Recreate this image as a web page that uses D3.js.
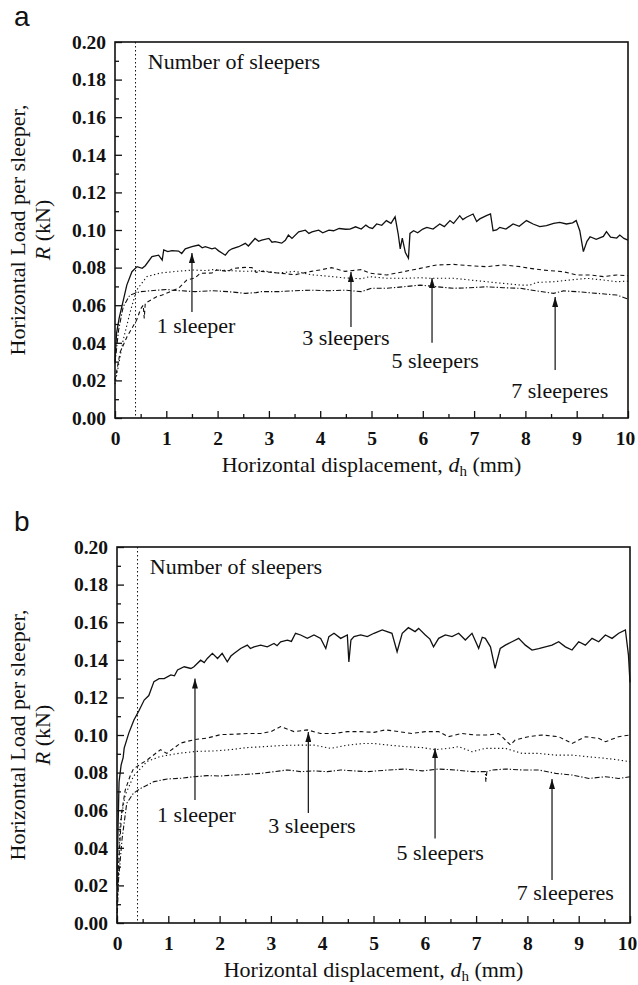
<!DOCTYPE html>
<html>
<head>
<meta charset="utf-8">
<script src="https://cdn.jsdelivr.net/npm/d3@7"></script>
<style>
  body { margin: 0; background: #fff; }
</style>
</head>
<body>
<div id="chart"></div>
<script>
// Axis ticks
const xTicks = [0, 1, 2, 3, 4, 5, 6, 7, 8, 9, 10];
const yTicks = [0, 0.02, 0.04, 0.06, 0.08, 0.10, 0.12, 0.14, 0.16, 0.18, 0.20];
const seriesNames = ["1 sleeper", "3 sleepers", "5 sleepers", "7 sleeperes"];
const markerLine = 0.4; // dotted vertical line, mm

// Panel a : [displacement mm, load kN]
const aOne = [[0,0.030],[0.03,0.045],[0.08,0.053],[0.14,0.060],[0.23,0.0707],[0.33,0.0778],[0.43,0.0805],[0.53,0.0796],[0.59,0.081],[0.72,0.0858],[0.85,0.0866],[0.92,0.084],[0.95,0.0894],[1.03,0.0885],[1.11,0.089],[1.24,0.0888],[1.3,0.0875],[1.37,0.090],[1.5,0.0911],[1.63,0.092],[1.7,0.0905],[1.76,0.0911],[1.89,0.090],[1.95,0.0905],[2.02,0.0889],[2.1,0.0875],[2.15,0.0866],[2.22,0.089],[2.28,0.090],[2.41,0.0911],[2.54,0.0929],[2.6,0.0915],[2.73,0.0955],[2.8,0.094],[2.86,0.0946],[3.0,0.0955],[3.06,0.0935],[3.12,0.0938],[3.25,0.093],[3.32,0.0945],[3.38,0.0973],[3.45,0.0955],[3.58,0.099],[3.71,0.0999],[3.78,0.0982],[3.84,0.099],[3.97,0.0999],[4.05,0.0985],[4.17,0.0999],[4.26,0.0996],[4.37,0.1008],[4.5,0.1004],[4.58,0.1005],[4.69,0.1017],[4.8,0.1005],[4.89,0.1026],[4.96,0.1012],[5.02,0.1008],[5.1,0.1032],[5.2,0.1025],[5.29,0.105],[5.38,0.1035],[5.46,0.107],[5.52,0.098],[5.56,0.090],[5.6,0.0957],[5.66,0.088],[5.72,0.085],[5.75,0.0982],[5.82,0.0996],[5.9,0.0985],[6.0,0.1005],[6.08,0.1014],[6.2,0.1005],[6.33,0.1032],[6.42,0.1018],[6.53,0.105],[6.6,0.1035],[6.72,0.1076],[6.78,0.1055],[6.85,0.1068],[6.98,0.1085],[7.05,0.1045],[7.11,0.1059],[7.24,0.1076],[7.32,0.1085],[7.37,0.0996],[7.44,0.1],[7.5,0.1014],[7.62,0.1005],[7.76,0.1032],[7.88,0.102],[8.02,0.105],[8.15,0.1032],[8.28,0.1018],[8.41,0.1023],[8.55,0.1035],[8.67,0.1041],[8.8,0.1032],[8.92,0.1038],[8.99,0.105],[9.06,0.0996],[9.13,0.0885],[9.2,0.094],[9.26,0.0964],[9.38,0.095],[9.52,0.0966],[9.58,0.0991],[9.66,0.0962],[9.78,0.0957],[9.84,0.0973],[9.92,0.0955],[10.0,0.0946]];
const aThree = [[0,0.020],[0.1,0.035],[0.23,0.043],[0.42,0.052],[0.5,0.058],[0.55,0.060],[0.57,0.053],[0.59,0.061],[0.81,0.0645],[0.92,0.0654],[1.14,0.068],[1.24,0.069],[1.40,0.0734],[1.56,0.0745],[1.66,0.077],[1.89,0.0771],[1.98,0.0787],[2.21,0.078],[2.3,0.0796],[2.54,0.0801],[2.67,0.080],[2.75,0.0775],[2.86,0.078],[3.18,0.0771],[3.51,0.0762],[3.83,0.078],[4.03,0.0789],[4.22,0.080],[4.48,0.078],[4.8,0.0789],[4.97,0.077],[5.3,0.0761],[5.62,0.0778],[5.95,0.0796],[6.27,0.0814],[6.6,0.0817],[6.92,0.081],[7.24,0.0805],[7.57,0.0814],[7.9,0.0805],[8.09,0.0796],[8.35,0.0787],[8.74,0.0778],[9.0,0.0761],[9.26,0.0761],[9.52,0.0752],[9.78,0.0761],[10.0,0.0757]];
const aFive = [[0,0.018],[0.16,0.0415],[0.29,0.0558],[0.42,0.068],[0.62,0.0752],[0.88,0.0771],[1.2,0.078],[1.53,0.0787],[1.79,0.0784],[1.89,0.0789],[2.21,0.0784],[2.54,0.078],[2.86,0.0784],[3.18,0.0771],[3.51,0.078],[3.83,0.0762],[4.16,0.0754],[4.48,0.0745],[4.8,0.0741],[4.97,0.0752],[5.3,0.0743],[5.62,0.0743],[5.95,0.0746],[6.14,0.0743],[6.6,0.0743],[6.92,0.0734],[7.24,0.0725],[7.57,0.0716],[7.9,0.0707],[8.09,0.0707],[8.22,0.0721],[8.55,0.0725],[8.87,0.0734],[9.2,0.0743],[9.52,0.0734],[9.78,0.0725],[10.0,0.0728]];
const aSeven = [[0,0.029],[0.07,0.0468],[0.16,0.0592],[0.29,0.0654],[0.49,0.0672],[1.01,0.0684],[1.11,0.068],[1.56,0.0672],[1.89,0.0677],[2.21,0.0672],[2.54,0.0663],[2.75,0.0667],[2.86,0.0672],[3.18,0.0672],[3.51,0.0677],[3.83,0.068],[4.16,0.0677],[4.48,0.068],[4.8,0.0672],[5.0,0.069],[5.3,0.069],[5.62,0.0698],[5.95,0.0707],[6.27,0.0698],[6.6,0.069],[6.92,0.0693],[7.24,0.0698],[7.57,0.0693],[7.9,0.069],[8.22,0.0676],[8.55,0.0663],[8.74,0.0676],[9.0,0.0672],[9.39,0.0663],[9.78,0.0654],[10.0,0.0633]];

// Panel b : [displacement mm, load kN]
const bOne = [[0,0.020],[0.02,0.050],[0.04,0.075],[0.08,0.084],[0.12,0.088],[0.14,0.093],[0.23,0.101],[0.33,0.108],[0.43,0.113],[0.53,0.1186],[0.62,0.121],[0.72,0.1284],[0.82,0.130],[0.92,0.130],[1.05,0.132],[1.12,0.1315],[1.18,0.1346],[1.31,0.1363],[1.44,0.1354],[1.5,0.1363],[1.63,0.1398],[1.7,0.1385],[1.76,0.1407],[1.86,0.1434],[1.96,0.1407],[2.05,0.1434],[2.15,0.1389],[2.22,0.142],[2.28,0.1434],[2.41,0.146],[2.54,0.1478],[2.6,0.146],[2.67,0.1469],[2.8,0.1478],[2.93,0.1469],[3.06,0.1487],[3.12,0.1475],[3.19,0.1496],[3.32,0.1505],[3.4,0.1498],[3.48,0.1541],[3.58,0.1532],[3.71,0.1514],[3.84,0.1532],[3.97,0.1514],[4.07,0.146],[4.13,0.1523],[4.23,0.1541],[4.36,0.1514],[4.49,0.1532],[4.52,0.1389],[4.56,0.1505],[4.62,0.1523],[4.75,0.1532],[4.88,0.1523],[5.01,0.1541],[5.17,0.1559],[5.36,0.1541],[5.46,0.1443],[5.56,0.1541],[5.68,0.1571],[5.81,0.155],[5.88,0.1567],[6.01,0.1532],[6.1,0.151],[6.17,0.1469],[6.27,0.1514],[6.4,0.1532],[6.53,0.1523],[6.66,0.1541],[6.79,0.1505],[6.92,0.1541],[7.05,0.1461],[7.12,0.152],[7.18,0.1514],[7.28,0.1469],[7.37,0.1354],[7.47,0.146],[7.57,0.1478],[7.7,0.1496],[7.83,0.1514],[7.96,0.1478],[8.09,0.1452],[8.22,0.146],[8.35,0.1469],[8.48,0.1478],[8.61,0.1496],[8.74,0.1469],[8.87,0.1452],[9.0,0.1496],[9.13,0.1478],[9.26,0.1514],[9.39,0.1496],[9.52,0.1532],[9.65,0.1514],[9.78,0.1541],[9.91,0.1559],[9.97,0.1425],[10.0,0.128]];
const bThree = [[0,0.010],[0.05,0.040],[0.09,0.0585],[0.16,0.0707],[0.25,0.0778],[0.32,0.082],[0.6,0.087],[0.85,0.0922],[0.97,0.0902],[1.24,0.0957],[1.5,0.0975],[1.76,0.0984],[2.02,0.1002],[2.28,0.1004],[2.54,0.1008],[2.8,0.1008],[3.0,0.1018],[3.19,0.1045],[3.45,0.1018],[3.71,0.1027],[3.97,0.1008],[4.23,0.1008],[4.49,0.1018],[4.75,0.1018],[5.01,0.1014],[5.23,0.1027],[5.49,0.1018],[5.75,0.1008],[6.01,0.1018],[6.27,0.1018],[6.46,0.0991],[6.72,0.1008],[6.98,0.100],[7.24,0.100],[7.44,0.1008],[7.67,0.0947],[7.76,0.0973],[8.02,0.0991],[8.28,0.100],[8.61,0.0991],[8.87,0.0955],[9.13,0.0991],[9.39,0.0982],[9.52,0.0964],[9.78,0.0991],[10.0,0.100]];
const bFive = [[0,0.005],[0.06,0.053],[0.16,0.068],[0.32,0.078],[0.59,0.086],[0.85,0.0886],[1.24,0.0904],[1.56,0.0913],[1.89,0.0915],[2.21,0.0922],[2.54,0.0933],[2.86,0.0938],[3.19,0.0944],[3.51,0.0946],[3.84,0.0946],[4.16,0.0929],[4.49,0.0946],[4.81,0.0955],[5.01,0.0955],[5.3,0.0946],[5.62,0.0938],[5.95,0.0933],[6.2,0.0922],[6.46,0.0929],[6.66,0.0938],[6.92,0.0911],[7.18,0.0929],[7.57,0.0929],[7.9,0.0902],[8.22,0.0902],[8.55,0.0893],[8.87,0.0893],[9.2,0.0884],[9.52,0.0876],[9.78,0.0867],[10.0,0.0858]];
const bSeven = [[0,0.0],[0.03,0.023],[0.1,0.045],[0.19,0.0637],[0.32,0.069],[0.46,0.0716],[0.72,0.0752],[0.98,0.0766],[1.24,0.077],[1.5,0.0778],[1.76,0.0784],[2.02,0.0782],[2.28,0.0787],[2.54,0.0791],[2.8,0.0796],[3.06,0.0805],[3.32,0.0814],[3.58,0.0805],[3.84,0.0809],[4.1,0.0805],[4.36,0.0814],[4.62,0.0809],[4.88,0.0805],[5.3,0.0814],[5.62,0.0819],[5.95,0.0809],[6.27,0.0819],[6.6,0.0814],[6.92,0.0805],[7.18,0.0805],[7.19,0.0751],[7.21,0.0805],[7.31,0.0814],[7.57,0.0819],[7.9,0.0814],[8.22,0.0814],[8.55,0.0796],[8.87,0.0787],[9.2,0.0769],[9.52,0.0778],[9.78,0.0769],[10.0,0.0778]];

// Arrow annotations: [x, tail load, tip load, label x, label baseline load]
const aArrows = [[1.5,0.0564,0.0878,1.58,0.0452],[4.6,0.0484,0.0777,4.5,0.0388],[6.18,0.040,0.0745,6.24,0.0266],[8.58,0.0255,0.0644,8.67,0.0106]];
const bArrows = [[1.52,0.0654,0.130,1.55,0.0537],[3.73,0.0585,0.1016,3.8,0.0479],[6.2,0.045,0.093,6.3,0.0335],[8.48,0.0229,0.0766,8.74,0.0122]];

const dashes = [null, "4,3", "1.3,2.6", "5,2,1.3,2"];
const serif = "'Liberation Serif', 'Times New Roman', 'DejaVu Serif', serif";

const W = 638, H = 985;
const svg = d3.select("#chart").append("svg")
    .attr("width", W)
    .attr("height", H);

// arrow head
svg.append("defs").append("marker")
    .attr("id", "head")
    .attr("viewBox", "0 0 10 6")
    .attr("refX", 10).attr("refY", 3)
    .attr("markerWidth", 10).attr("markerHeight", 6)
    .attr("markerUnits", "userSpaceOnUse")
    .attr("orient", "auto")
  .append("path")
    .attr("d", "M0,0 L10,3 L0,6 Z")
    .attr("fill", "#111");

function label(sel, size) {
    return sel.attr("font-family", serif)
        .style("font-family", serif)
        .style("font-size", size + "px")
        .attr("fill", "#111");
}

function drawPanel(letter, left, top, series, arrows) {
    const width = 513, height = 376;
    const g = svg.append("g").attr("transform", `translate(${left},${top})`);

    const x = d3.scaleLinear().domain([0, 10]).range([0, width]);
    const y = d3.scaleLinear().domain([0, 0.2]).range([height, 0]);

    // panel letter
    svg.append("text")
        .attr("x", 14).attr("y", top - 16)
        .style("font-family", "'Liberation Sans', Arial, sans-serif")
        .style("font-size", "28px")
        .attr("fill", "#111")
        .text(letter);

    // minor ticks (inside)
    g.append("g")
        .attr("transform", `translate(0,${height})`)
        .call(d3.axisBottom(x).tickValues(d3.range(0.5, 10, 1)).tickSize(-4).tickFormat(""))
        .call(a => a.select(".domain").remove());
    g.append("g")
        .call(d3.axisLeft(y).tickValues(d3.range(0.01, 0.2, 0.02)).tickSize(-4).tickFormat(""))
        .call(a => a.select(".domain").remove());

    // major ticks
    const xAxis = g.append("g")
        .attr("transform", `translate(0,${height})`)
        .call(d3.axisBottom(x).tickValues(xTicks).tickSize(-7).tickPadding(13).tickFormat(d3.format("d")));
    const yAxis = g.append("g")
        .call(d3.axisLeft(y).tickValues(yTicks).tickSize(-7).tickPadding(9).tickFormat(d3.format(".2f")));

    [xAxis, yAxis].forEach(a => {
        a.attr("font-family", serif);
        a.select(".domain").remove();
        label(a.selectAll("text"), 19.5).style("font-weight", "bold");
    });
    // keep the last x label inside the picture
    xAxis.selectAll(".tick text").filter(d => d === 10).attr("dx", -3);
    g.selectAll(".tick line").attr("stroke", "#111").attr("stroke-width", 1.3);

    // frame
    g.append("rect")
        .attr("width", width).attr("height", height)
        .attr("fill", "none")
        .attr("stroke", "#111")
        .attr("stroke-width", 1.6);

    // dotted vertical marker
    g.append("line")
        .attr("x1", x(markerLine)).attr("x2", x(markerLine))
        .attr("y1", 0).attr("y2", height)
        .attr("stroke", "#111")
        .attr("stroke-width", 1)
        .attr("stroke-dasharray", "1.5,2.5");

    label(g.append("text"), 22)
        .attr("x", x(0.64)).attr("y", 27)
        .text("Number of sleepers");

    // curves
    const line = d3.line().x(d => x(d[0])).y(d => y(d[1]));
    series.forEach((s, i) => {
        g.append("path")
            .datum(s)
            .attr("fill", "none")
            .attr("stroke", "#111")
            .attr("stroke-width", i === 0 ? 1.3 : 1.1)
            .attr("stroke-dasharray", dashes[i])
            .attr("d", line);
    });

    // arrows and labels
    arrows.forEach((d, i) => {
        g.append("line")
            .attr("x1", x(d[0])).attr("x2", x(d[0]))
            .attr("y1", y(d[1])).attr("y2", y(d[2]))
            .attr("stroke", "#222")
            .attr("stroke-width", 1.3)
            .attr("marker-end", "url(#head)");
        label(g.append("text"), 22)
            .attr("x", x(d[3])).attr("y", y(d[4]))
            .attr("text-anchor", "middle")
            .text(seriesNames[i]);
    });

    // axis titles
    const xt = label(g.append("text"), 22)
        .attr("x", width / 2).attr("y", height + 54)
        .attr("text-anchor", "middle");
    xt.append("tspan").text("Horizontal displacement, ");
    xt.append("tspan").style("font-style", "italic").text("d");
    xt.append("tspan").style("font-size", "15px").attr("dy", 4).text("h");
    xt.append("tspan").attr("dy", -4).text(" (mm)");

    label(svg.append("text"), 22)
        .attr("transform", `translate(25,${top + height / 2}) rotate(-90)`)
        .attr("text-anchor", "middle")
        .text("Horizontal Load per sleeper,");
    const yt2 = label(svg.append("text"), 22)
        .attr("transform", `translate(50,${top + height / 2}) rotate(-90)`)
        .attr("text-anchor", "middle");
    yt2.append("tspan").style("font-style", "italic").text("R");
    yt2.append("tspan").text(" (kN)");
}

drawPanel("a", 115, 42, [aOne, aThree, aFive, aSeven], aArrows);
drawPanel("b", 117, 547, [bOne, bThree, bFive, bSeven], bArrows);
</script>
</body>
</html>
